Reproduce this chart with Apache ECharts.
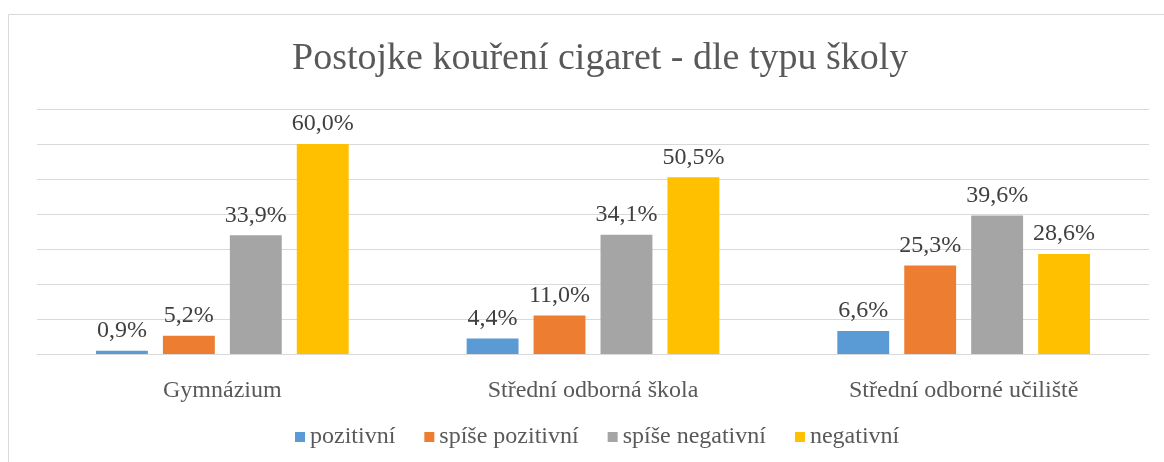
<!DOCTYPE html>
<html>
<head>
<meta charset="utf-8">
<script src="https://cdn.jsdelivr.net/npm/echarts@6/dist/echarts.min.js"></script>
<style>
  html, body { margin: 0; padding: 0; background: #fff; }
  #chart { width: 1164px; height: 462px; }
</style>
</head>
<body>
<div id="chart"></div>
<script>
const categories = ["Gymnázium", "Střední odborná škola", "Střední odborné učiliště"];
const seriesNames = ["pozitivní", "spíše pozitivní", "spíše negativní", "negativní"];
const pozitivni = [0.9, 4.4, 6.6];
const spisePozitivni = [5.2, 11.0, 25.3];
const spiseNegativni = [33.9, 34.1, 39.6];
const negativni = [60.0, 50.5, 28.6];
const colors = ["#5B9BD5", "#ED7D31", "#A5A5A5", "#FFC000"];

const font = '"Liberation Serif", "Times New Roman", serif';
const values = [pozitivni, spisePozitivni, spiseNegativni, negativni];

const chart = echarts.init(document.getElementById("chart"), null, { renderer: "canvas" });

const option = {
  animation: false,
  color: colors,
  title: {
    text: "Postojke kouření cigaret - dle typu školy",
    left: 287,
    top: 35,
    textStyle: { fontFamily: font, fontSize: 38, fontWeight: "normal", color: "#595959" }
  },
  graphic: [{
    type: "rect",
    shape: { x: 8.5, y: 14.5, width: 1170, height: 460 },
    style: { fill: null, stroke: "#d9d9d9", lineWidth: 1 },
    silent: true
  }],
  legend: {
    bottom: 8,
    left: 290,
    itemWidth: 10,
    itemHeight: 10,
    itemGap: 29,
    icon: "rect",
    textStyle: { fontFamily: font, fontSize: 24, color: "#595959" },
    data: seriesNames
  },
  grid: { left: 37, right: 15, top: 109, bottom: 108 },
  xAxis: {
    type: "category",
    data: categories,
    axisTick: { show: false },
    axisLine: { lineStyle: { color: "#d9d9d9", width: 1 } },
    axisLabel: { fontFamily: font, fontSize: 24, color: "#595959", margin: 25 }
  },
  yAxis: {
    type: "value",
    min: 0,
    max: 70,
    interval: 10,
    axisLabel: { show: false },
    axisLine: { show: false },
    axisTick: { show: false },
    splitLine: { lineStyle: { color: "#d9d9d9", width: 1 } }
  },
  series: seriesNames.map((name, i) => ({
    name: name,
    type: "bar",
    data: values[i],
    barWidth: "14%",
    barGap: "29%",
    label: {
      show: true,
      position: "top",
      distance: 8,
      fontFamily: font,
      fontSize: 24,
      color: "#404040",
      formatter: p => p.value.toFixed(1).replace(".", ",") + "%"
    }
  }))
};

chart.setOption(option);
</script>
</body>
</html>
